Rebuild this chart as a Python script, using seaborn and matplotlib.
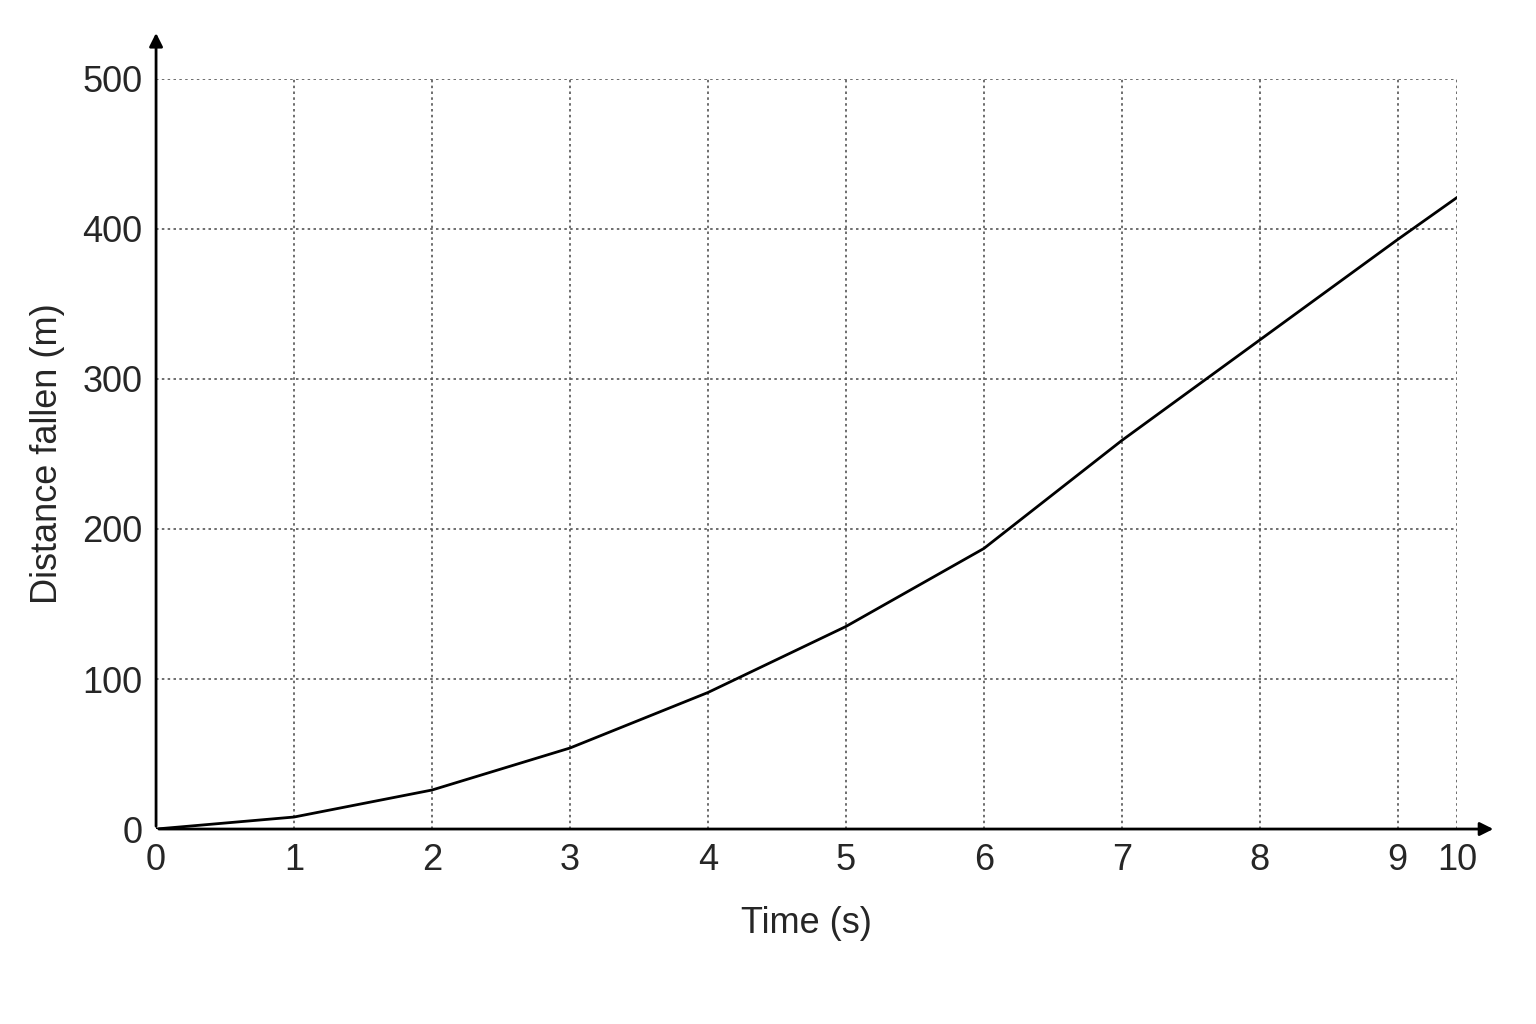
import matplotlib
matplotlib.use("Agg")
import matplotlib.pyplot as plt
import seaborn as sns
import pandas as pd

tick_labels = ["0","1","2","3","4","5","6","7","8","9","10"]
tick_pos = [0,1,2,3,4,5,6,7,8,9,9.43]
distance = [0,8,26,54,91,135,187,259,326,393,421]

sns.set_style("white")
plt.rcParams['font.family'] = ['Liberation Sans', 'DejaVu Sans']
fig = plt.figure(figsize=(15.36,10.24), dpi=100)
ax = fig.add_axes([0.1016,0.1904,0.8470,0.7325])
df = pd.DataFrame({"t": tick_pos, "d": distance})
sns.lineplot(data=df, x="t", y="d", ax=ax, color="black", lw=2)
ax.set_xlim(0, 9.43); ax.set_ylim(0, 500)
ax.set_xticks(tick_pos); ax.set_xticklabels(tick_labels)
ax.set_yticks([0,100,200,300,400,500])
for s in ax.spines.values(): s.set_visible(False)
ax.grid(True, ls=(0,(1.5,2)), color="#555555", lw=1.2)
ax.set_axisbelow(True)
ax.tick_params(labelsize=26, length=0, pad=10)
ax.set_xlabel("Time (s)", fontsize=26, labelpad=20)
ax.set_ylabel("Distance fallen (m)", fontsize=26, labelpad=12)
ax.annotate("", xy=(0,1.065), xytext=(0,0), xycoords="axes fraction",
            arrowprops=dict(arrowstyle="-|>", color="black", lw=2, mutation_scale=20), annotation_clip=False)
ax.annotate("", xy=(1.03,0), xytext=(0,0), xycoords="axes fraction",
            arrowprops=dict(arrowstyle="-|>", color="black", lw=2, mutation_scale=20), annotation_clip=False)
fig.savefig("out.png", dpi=100)
